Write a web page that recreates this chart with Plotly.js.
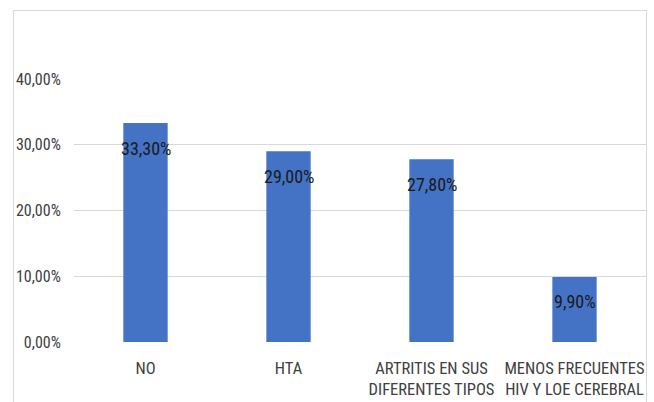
<!DOCTYPE html>
<html>
<head>
<meta charset="utf-8">
<script src="https://cdn.plot.ly/plotly-3.0.1.min.js"></script>
<style>
html,body{margin:0;padding:0;background:#fff;}
#frame{position:absolute;left:13px;top:10px;width:634px;height:400px;border:1px solid #d9d9d9;box-sizing:border-box;}
#chart{position:absolute;left:0;top:0;width:654px;height:402px;}
</style>
</head>
<body>
<div id="frame"></div>
<div id="chart"></div>
<script>
var categories = ["NO", "HTA", "ARTRITIS EN SUS<br>DIFERENTES TIPOS", "MENOS FRECUENTES<br>HIV Y LOE CEREBRAL"];
var values = [0.333, 0.29, 0.278, 0.099];
var labels = ["33,30%", "29,00%", "27,80%", "9,90%"];
var yTicks = [0, 0.1, 0.2, 0.3, 0.4];

var fontFam = '"Liberation Sans Narrow", "Roboto Condensed", Roboto, sans-serif';

var trace = {
  type: 'bar',
  x: categories,
  y: values,
  marker: {color: '#4472C4'},
  hoverinfo: 'none'
};

var annotations = categories.map(function(c, i){
  return {x: c, y: values[i], xref: 'x', yref: 'y', text: labels[i], showarrow: false,
    yanchor: 'middle', yshift: -25, font: {family: fontFam, size: 18, color: '#1a1a1a'}};
});

var layout = {
  width: 654, height: 402,
  margin: {l: 74, r: 8, t: 79, b: 60, pad: 0},
  paper_bgcolor: 'rgba(0,0,0,0)',
  plot_bgcolor: 'rgba(0,0,0,0)',
  separators: ',.',
  bargap: 0.69,
  showlegend: false,
  xaxis: {
    tickfont: {family: fontFam, size: 16.5, color: '#404040'},
    showgrid: false, showline: false, ticks: '', ticklen: 0,
    ticklabelstandoff: 14
  },
  yaxis: {
    range: [0, 0.4],
    tickvals: yTicks,
    tickformat: '.2%',
    tickfont: {family: fontFam, size: 16, color: '#404040'},
    gridcolor: '#d9d9d9', gridwidth: 1,
    zeroline: false, showline: false,
    ticks: 'outside', ticklen: 9, tickcolor: 'rgba(0,0,0,0)'
  },
  annotations: annotations
};

Plotly.newPlot('chart', [trace], layout, {displayModeBar: false, staticPlot: true});
</script>
</body>
</html>
